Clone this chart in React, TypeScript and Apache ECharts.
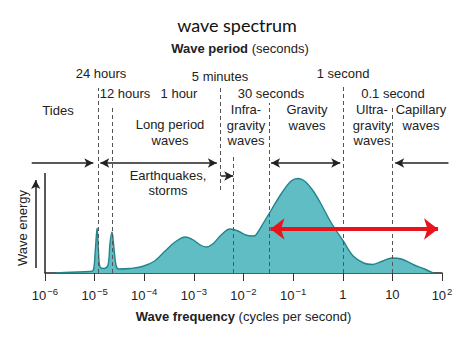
import React, { useEffect, useRef } from "react";
import * as echarts from "echarts";

// Wave energy spectrum: log10 of frequency (Hz) and relative energy
const logFreq = [
  -5.79, -5.48, -5.11, -5.03, -4.99, -4.95, -4.92, -4.89, -4.81, -4.73, -4.69, -4.65, -4.62, -4.57,
  -4.52, -4.29, -4.04, -3.79, -3.58, -3.38, -3.17, -3.01, -2.87, -2.75, -2.62, -2.45, -2.27, -2.11,
  -1.96, -1.81, -1.75, -1.6, -1.44, -1.23, -1.04, -0.9, -0.77, -0.61, -0.46, -0.23, 0.01, 0.21, 0.42,
  0.6, 0.81, 0.99, 1.18, 1.44, 1.65, 1.82,
];
const energy = [
  0, 0.8, 1.5, 2.5, 20, 45, 20, 6, 4.5, 8, 30, 41, 30, 8, 4, 4.5, 6.5, 12, 22, 31, 36, 33, 28, 26, 29,
  38, 44, 42, 38, 37, 38, 50, 63, 80, 92, 94.5, 92, 83, 71, 50, 32, 17, 10, 8.5, 12, 15, 14, 8, 4, 0,
];

const xMinExp = -6;
const xMaxExp = 2;
const yMax = 200;

// Dashed boundary lines: frequency, bottom energy, top energy
const boundaryFreq = [1.157e-5, 2.315e-5, 3.33e-3, 6.2e-3, 0.0333, 1, 10];
const boundaryBottom = [0, 0, 83, 0, 0, 0, 0];
const boundaryTop = [185, 166, 186, 118, 170, 186, 166];

// Black arrows: from freq, to freq, level, double-headed
const arrowFrom = [5.4e-7, 1.3e-5, 3.5e-3, 0.036, 135];
const arrowTo = [9.4e-6, 2.9e-3, 6.2e-3, 0.89, 11.4];
const arrowLevel = [110, 110, 97, 110, 110];
const arrowDouble = [false, true, false, true, false];

// Red range arrow
const redFrom = 0.035;
const redTo = 83;
const redLevel = 44;

// Energy axis line and arrow
const energyAxisTop = 100;
const energyArrowFreq = 6.5e-7;
const energyArrowFrom = 5;
const energyArrowTo = 93;

const FONT = "Liberation Sans";

type Label = { text: string; x: number; y: number };
const labels: Label[] = [
  { text: "24 hours", x: 101, y: 73 },
  { text: "5 minutes", x: 220, y: 76 },
  { text: "1 second", x: 343, y: 73 },
  { text: "12 hours", x: 125, y: 93 },
  { text: "1 hour", x: 179, y: 93 },
  { text: "30 seconds", x: 271, y: 93 },
  { text: "0.1 second", x: 393, y: 93 },
  { text: "Tides", x: 58, y: 110 },
  { text: "Infra-\ngravity\nwaves", x: 246, y: 125 },
  { text: "Gravity\nwaves", x: 307, y: 117.5 },
  { text: "Ultra-\ngravity\nwaves", x: 372, y: 125 },
  { text: "Capillary\nwaves", x: 421, y: 117.5 },
  { text: "Long period\nwaves", x: 170, y: 132.5 },
  { text: "Earthquakes,\nstorms", x: 168, y: 183 },
];

const W = 474;
const H = 355;
const GRID = { left: 45, right: 32, top: 73, bottom: 82 };

export default function App() {
  const ref = useRef<HTMLDivElement>(null);
  useEffect(() => {
    if (!ref.current) return;
    const chart = echarts.init(ref.current, undefined, { renderer: "svg" });

    const curve = logFreq.map((lf, i) => [Math.pow(10, lf), energy[i]]);

    // Full-width overlay axis sharing the same log scale, for annotations outside the plotted range
    const decadePx = (W - GRID.left - GRID.right) / (xMaxExp - xMinExp);
    const overlayMin = Math.pow(10, xMinExp - GRID.left / decadePx);
    const overlayMax = Math.pow(10, xMaxExp + GRID.right / decadePx);

    const dashed = boundaryFreq.map((f, i) => [
      { coord: [f, boundaryBottom[i]], symbol: "none" },
      { coord: [f, boundaryTop[i]], symbol: "none" },
    ]);

    const arrows: any[] = arrowFrom.map((f, i) => [
      { coord: [f, arrowLevel[i]], symbol: arrowDouble[i] ? "arrow" : "none" },
      { coord: [arrowTo[i], arrowLevel[i]], symbol: "arrow" },
    ]);
    arrows.push([
      { coord: [energyArrowFreq, energyArrowFrom], symbol: "none" },
      { coord: [energyArrowFreq, energyArrowTo], symbol: "arrow" },
    ]);

    const axisLines = [
      [
        { coord: [Math.pow(10, xMinExp), 0], symbol: "none" },
        { coord: [Math.pow(10, xMinExp), energyAxisTop], symbol: "none" },
      ],
    ];

    const supLabel = (v: number) => {
      const e = Math.round(Math.log10(v));
      if (e === 0) return "{b|1}";
      if (e === 1) return "{b|10}";
      if (e > 1) return "{b|10}{s|" + e + "}";
      return "{b|10}{s|\u2212" + Math.abs(e) + "}";
    };

    chart.setOption({
      animation: false,
      textStyle: { fontFamily: FONT },
      grid: [
        { ...GRID, containLabel: false },
        { left: 0, right: 0, top: GRID.top, bottom: GRID.bottom, containLabel: false },
      ],
      xAxis: [
        {
          type: "log",
          gridIndex: 0,
          logBase: 10,
          min: Math.pow(10, xMinExp),
          max: Math.pow(10, xMaxExp),
          splitLine: { show: false },
          minorTick: { show: false },
          axisLine: { show: true, lineStyle: { color: "#222", width: 1.5 } },
          axisTick: { show: true, length: 8, lineStyle: { color: "#333", width: 1 } },
          axisLabel: {
            margin: 13,
            formatter: (v: number) => supLabel(v),
            rich: {
              b: { fontSize: 13, color: "#222", fontFamily: FONT, lineHeight: 16 },
              s: { fontSize: 9.5, color: "#222", fontFamily: FONT, padding: [0, 0, 8, 1] },
            },
          },
          name: "{b|Wave frequency} (cycles per second)",
          nameLocation: "middle",
          nameGap: 37,
          nameTextStyle: {
            fontSize: 13,
            color: "#222",
            fontFamily: FONT,
            rich: { b: { fontSize: 13, fontWeight: "bold", color: "#222", fontFamily: FONT } },
          },
        },
        {
          type: "log",
          gridIndex: 1,
          logBase: 10,
          min: overlayMin,
          max: overlayMax,
          show: false,
        },
      ],
      yAxis: [
        { type: "value", gridIndex: 0, min: 0, max: yMax, show: false },
        { type: "value", gridIndex: 1, min: 0, max: yMax, show: false },
      ],
      series: [
        {
          type: "line",
          data: curve,
          smooth: 0.35,
          showSymbol: false,
          symbol: "none",
          lineStyle: { color: "#22848c", width: 1.4 },
          areaStyle: { color: "#61bdc4", opacity: 1 },
          z: 2,
        },
        {
          type: "line",
          data: [],
          z: 3,
          markLine: {
            silent: true,
            animation: false,
            symbol: ["none", "none"],
            label: { show: false },
            lineStyle: { color: "#555", width: 1, type: [4, 3] },
            data: dashed,
          },
        },
        {
          type: "line",
          data: [],
          z: 3,
          markLine: {
            silent: true,
            animation: false,
            symbol: ["none", "none"],
            label: { show: false },
            lineStyle: { color: "#222", width: 1.5, type: "solid" },
            data: axisLines,
          },
        },
        {
          type: "line",
          xAxisIndex: 1,
          yAxisIndex: 1,
          data: [],
          z: 4,
          markLine: {
            silent: true,
            animation: false,
            symbolSize: [7, 9],
            label: { show: false },
            lineStyle: { color: "#222", width: 1.5, type: "solid" },
            data: arrows,
          },
        },
        {
          type: "line",
          data: [],
          z: 5,
          markLine: {
            silent: true,
            animation: false,
            symbol: ["arrow", "arrow"],
            symbolSize: [16, 14],
            label: { show: false },
            lineStyle: { color: "#e8141b", width: 4, type: "solid" },
            data: [[{ coord: [redFrom, redLevel] }, { coord: [redTo, redLevel] }]],
          },
        },
      ],
      graphic: [
        {
          type: "text",
          x: 237,
          y: 25,
          style: {
            text: "wave spectrum",
            fontFamily: "Lato",
            fontSize: 18,
            fill: "#111",
            align: "center",
            verticalAlign: "middle",
          },
        },
        {
          type: "text",
          x: 240,
          y: 48,
          style: {
            text: "{b|Wave period} (seconds)",
            fontFamily: FONT,
            fontSize: 13,
            fill: "#222",
            align: "center",
            verticalAlign: "middle",
            rich: { b: { fontFamily: FONT, fontSize: 13, fontWeight: "bold", fill: "#222" } },
          },
        },
        {
          type: "text",
          x: 22,
          y: 228,
          rotation: Math.PI / 2,
          style: {
            text: "Wave energy",
            fontFamily: FONT,
            fontSize: 13,
            fill: "#222",
            align: "center",
            verticalAlign: "middle",
          },
        },
        ...labels.map((l) => ({
          type: "text",
          x: l.x,
          y: l.y,
          style: {
            text: l.text,
            fontFamily: FONT,
            fontSize: 13,
            lineHeight: 15.5,
            fill: "#222",
            align: "center",
            verticalAlign: "middle",
          },
        })),
      ],
    });
    return () => chart.dispose();
  }, []);
  return (
    <div
      ref={ref}
      style={{ position: "absolute", left: 0, top: 0, width: W, height: H, background: "#fff" }}
    />
  );
}
